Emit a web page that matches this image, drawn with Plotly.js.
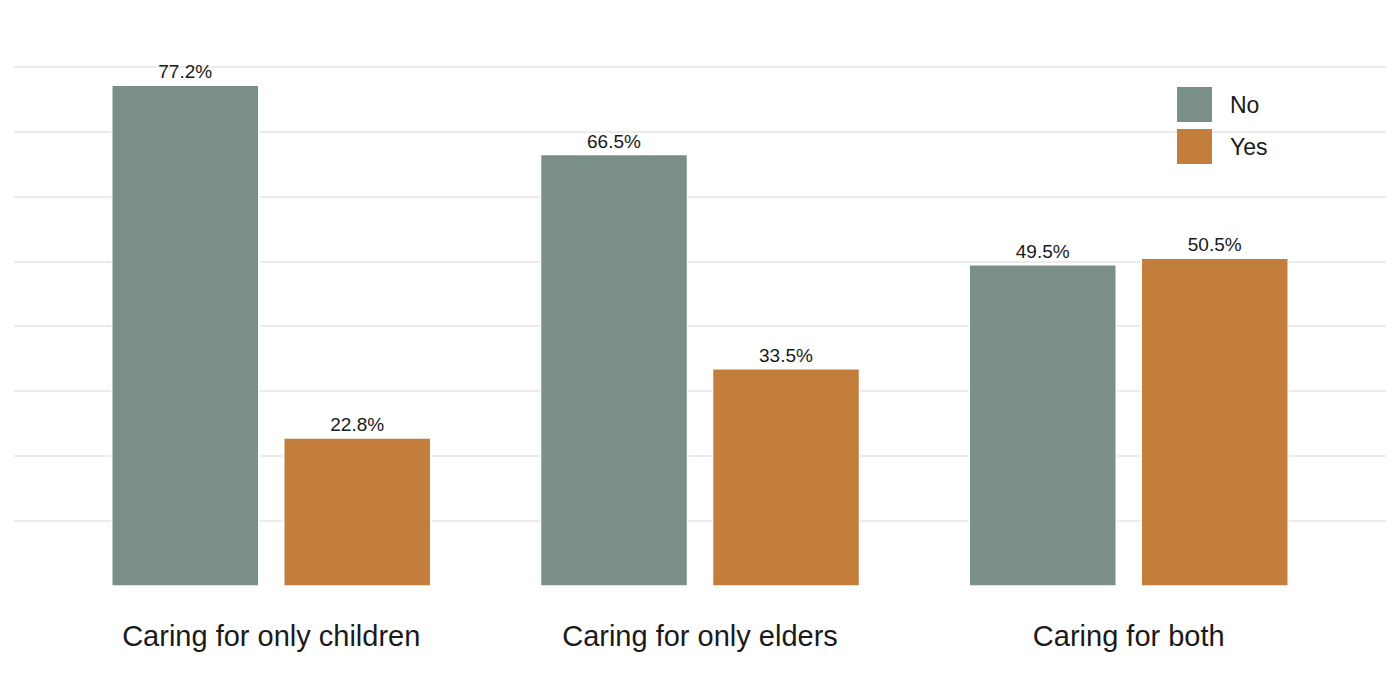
<!DOCTYPE html>
<html>
<head>
<meta charset="utf-8">
<script src="https://cdn.plot.ly/plotly-3.0.1.min.js"></script>
<style>html,body{margin:0;padding:0;background:#fff;}#chart{width:1400px;height:700px;}</style>
</head>
<body>
<div id="chart"></div>
<script>
var categories = ["Caring for only children", "Caring for only elders", "Caring for both"];
var seriesNames = ["No", "Yes"];
var noValues = [77.2, 66.5, 49.5];
var yesValues = [22.8, 33.5, 50.5];
var colors = ["#7A8F87", "#C27E3A"];

var W = 1400, H = 700, ML = 14, MR = 14, MT = 54, MB = 114;
function px2x(p) { return (p - ML) / (W - ML - MR); }
function py2y(p) { return (H - MB - p) / (H - MT - MB); }

function fmt(v) { return v.toFixed(1) + "%"; }

var traces = [noValues, yesValues].map(function (vals, i) {
  return {
    type: "bar",
    name: seriesNames[i],
    x: categories,
    y: vals,
    marker: { color: colors[i], line: { color: "#ffffff", width: 1.5 } },
    text: vals.map(fmt),
    textposition: "outside",
    textfont: { family: "Liberation Sans, Arial, sans-serif", size: 19, color: "#1a1a1a" },
    cliponaxis: false,
    hoverinfo: "x+y+name",
    showlegend: false
  };
});

var shapes = [], annotations = [];
var legTop = [87, 129];
seriesNames.forEach(function (n, i) {
  shapes.push({
    type: "rect", xref: "paper", yref: "paper",
    x0: px2x(1177), x1: px2x(1212), y0: py2y(legTop[i] + 35), y1: py2y(legTop[i]),
    fillcolor: colors[i], line: { width: 0 }
  });
  annotations.push({
    xref: "paper", yref: "paper", x: px2x(1228), y: py2y(legTop[i] + 17.5),
    xanchor: "left", yanchor: "middle", showarrow: false, text: n,
    font: { family: "Liberation Sans, Arial, sans-serif", size: 23, color: "#1a1a1a" }
  });
});

var layout = {
  width: W, height: H,
  margin: { l: ML, r: MR, t: MT, b: MB, pad: 0 },
  paper_bgcolor: "#ffffff", plot_bgcolor: "#ffffff",
  barmode: "group",
  bargap: 0.1977,
  bargroupgap: 0.1453,
  showlegend: false,
  font: { family: "Liberation Sans, Arial, sans-serif", color: "#1a1a1a" },
  xaxis: {
    type: "category",
    range: [-0.6, 2.6],
    showgrid: false, zeroline: false, showline: false,
    ticks: "", ticklabelstandoff: 30,
    tickfont: { size: 29, color: "#1a1a1a" },
    fixedrange: true
  },
  yaxis: {
    range: [0, 82],
    dtick: 10, tick0: 0,
    showgrid: true, gridcolor: "#EBEBEB", gridwidth: 2,
    zeroline: false, showline: false,
    showticklabels: false, ticks: "",
    fixedrange: true
  },
  shapes: shapes,
  annotations: annotations
};

Plotly.newPlot("chart", traces, layout, { displayModeBar: false, staticPlot: true });
</script>
</body>
</html>
